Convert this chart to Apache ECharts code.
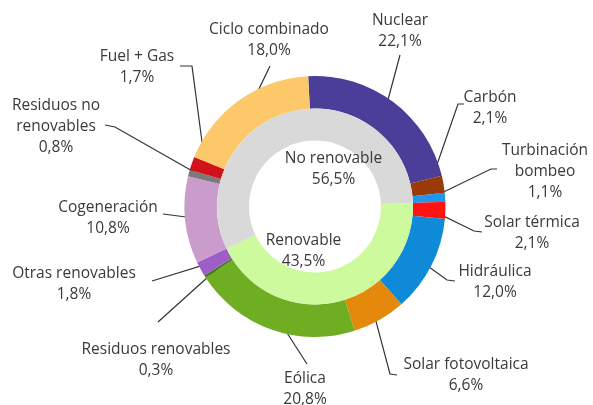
<!DOCTYPE html>
<html><head><meta charset="utf-8">
<script src="https://cdn.jsdelivr.net/npm/echarts@6/dist/echarts.min.js"></script>
<style>html,body{margin:0;padding:0;background:#fff}#c{width:593px;height:405px}</style>
</head><body><div id="c"></div>
<script>
// ---- data ----
const sources = ['Nuclear','Carbón','Turbinación\nbombeo','Solar térmica','Hidráulica','Solar fotovoltaica','Eólica','Residuos renovables','Otras renovables','Cogeneración','Residuos no\nrenovables','Fuel + Gas','Ciclo combinado'];
const shares = [22.1,2.1,1.1,2.1,12.0,6.6,20.8,0.3,1.8,10.8,0.8,1.7,18.0];
const groups = ['Renovable','No renovable'];
const groupShares = [43.5,56.5];
const renewableFirst = 3; // index of first renewable source in the outer ring

// ---- styles / layout ----
const colors = ['#4a3e98','#9a3a08','#2196ee','#ff1212','#0e8ad8','#e4890c','#6fae22','#3f7a14','#9d5fc7','#c99ccc','#7a7a7a','#d0121b','#fdc86a'];
const groupColors = ['#cdfa9d','#d9d9d9'];
const CX = 315, CY = 206.5;
const START = 93;
// [text x, text y, line end x, line end y, elbow x, elbow y]
const labelPos = [
  [400,31, 400,55, 400,55],
  [490,108, 464,104, 458,104],
  [545,172, 497,169, 491,169],
  [532,233, 482,232, 474,231],
  [495,282, 455,281, 447,280],
  [466,375, 397,375, 390,374],
  [305,389, 307,364, 307,364],
  [156,360, 158,322, 158,322],
  [74,284, 152,281, 152,281],
  [108,218, 163,214, 163,214],
  [56,127, 105,125, 115,127],
  [137,67, 180,66, 192,66],
  [269,40, 270,66, 270,66]
];
const innerLabelPos = [[303.5,251],[333.5,169.5]];

const total = shares.reduce((a,b)=>a+b,0);
function midAngle(i){
  let cum = 0; for (let k=0;k<i;k++) cum += shares[k];
  return (-(START-90) + 360*(cum + shares[i]/2)/total) * Math.PI/180;
}
const fmt = v => v.toFixed(1).replace('.', ',') + '%';
let before = 0; for (let k=0;k<renewableFirst;k++) before += shares[k];
const innerStart = START - 360*before/total;

const chart = echarts.init(document.getElementById('c'), null, {renderer:'canvas'});
const textStyle = {fontFamily:'Open Sans', fontSize:15.5, color:'#3a3a3a', lineHeight:21};
chart.setOption({
  animation:false,
  backgroundColor:'#fff',
  series:[
    {
      type:'pie', center:[CX,CY], radius:[98,130.5], startAngle:START, clockwise:true,
      avoidLabelOverlap:false, silent:true, minShowLabelAngle:0,
      itemStyle:{borderWidth:0},
      data: sources.map((n,i)=>({name:n, value:shares[i], itemStyle:{color:colors[i]}})),
      label:Object.assign({show:true, position:'outside', formatter:p=>p.name+'\n'+fmt(p.value)}, textStyle),
      labelLine:{show:true, length:10, length2:10, lineStyle:{color:'#333', width:1.2}},
      labelLayout:function(p){
        const i = p.dataIndex, L = labelPos[i], a = midAngle(i), r = 116;
        const p0 = [CX + r*Math.sin(a), CY - r*Math.cos(a)];
        return {x:L[0], y:L[1], align:'center', verticalAlign:'middle',
                labelLinePoints:[p0, [L[4],L[5]], [L[2],L[3]]]};
      }
    },
    {
      type:'pie', center:[CX,CY], radius:[66,98], startAngle:innerStart, clockwise:true,
      avoidLabelOverlap:false, silent:true,
      itemStyle:{borderWidth:0},
      data: groups.map((n,i)=>({name:n, value:groupShares[i], itemStyle:{color:groupColors[i]}})),
      label:Object.assign({show:true, position:'inside', formatter:p=>p.name+'\n'+fmt(p.value)}, textStyle),
      labelLine:{show:false},
      labelLayout:function(p){
        const L = innerLabelPos[p.dataIndex];
        return {x:L[0], y:L[1], align:'center', verticalAlign:'middle'};
      }
    }
  ]
});
</script>
</body></html>
